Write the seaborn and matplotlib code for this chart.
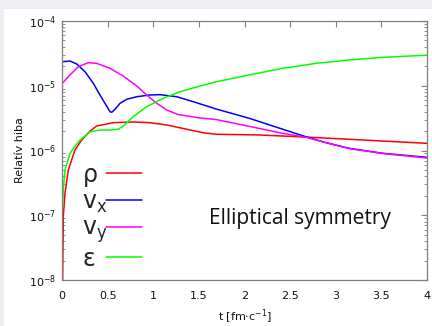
import matplotlib
matplotlib.use("Agg")
import matplotlib.pyplot as plt
from matplotlib.patches import Rectangle
from matplotlib.ticker import LogLocator, MultipleLocator, NullFormatter, FuncFormatter
import numpy as np
import pandas as pd
import seaborn as sns

# Relative error of each field versus time t [fm/c]
t_vx = [0.0, 0.003, 0.088, 0.161, 0.252, 0.343, 0.416, 0.482, 0.526, 0.545, 0.581,
        0.636, 0.709, 0.819, 0.964, 1.074, 1.257, 1.439, 1.688, 2.053, 2.419,
        2.674, 2.893, 3.148, 3.515, 4.0]
vx = [1e-9, 2.35e-5, 2.41e-5, 2.17e-5, 1.65e-5, 1.09e-5, 7.20e-6, 5.04e-6, 3.97e-6,
      3.89e-6, 4.33e-6, 5.36e-6, 6.18e-6, 6.77e-6, 7.20e-6, 7.28e-6, 6.77e-6,
      5.67e-6, 4.38e-6, 3.14e-6, 2.13e-6, 1.63e-6, 1.32e-6, 1.08e-6, 9.05e-7, 7.85e-7]

t_vy = [0.0, 0.003, 0.088, 0.179, 0.288, 0.380, 0.526, 0.672, 0.819, 0.928, 1.038,
        1.147, 1.271, 1.512, 1.688, 2.053, 2.419, 2.674, 2.893, 3.148, 3.515, 4.0]
vy = [1e-9, 1.09e-5, 1.47e-5, 1.97e-5, 2.27e-5, 2.22e-5, 1.86e-5, 1.41e-5, 9.91e-6,
      7.20e-6, 5.36e-6, 4.22e-6, 3.60e-6, 3.18e-6, 3.01e-6, 2.36e-6, 1.84e-6,
      1.60e-6, 1.32e-6, 1.07e-6, 8.99e-7, 7.66e-7]

t_rho = [0.0, 0.014, 0.033, 0.069, 0.142, 0.216, 0.307, 0.380, 0.562, 0.781, 0.964,
         1.147, 1.366, 1.548, 1.688, 2.145, 2.601, 3.148, 4.0]
rho = [1e-9, 9.5e-8, 2.21e-7, 5.0e-7, 1.02e-6, 1.45e-6, 2.0e-6, 2.39e-6, 2.69e-6,
       2.76e-6, 2.69e-6, 2.48e-6, 2.13e-6, 1.88e-6, 1.78e-6, 1.74e-6, 1.63e-6,
       1.49e-6, 1.29e-6]

t_eps = [0.0, 0.002, 0.014, 0.033, 0.088, 0.179, 0.307, 0.416, 0.526, 0.617, 0.672,
         0.781, 0.928, 1.110, 1.293, 1.512, 1.688, 2.053, 2.419, 2.784, 3.148,
         3.515, 4.0]
eps = [1e-9, 1.07e-7, 2.45e-7, 5.0e-7, 9.05e-7, 1.37e-6, 1.95e-6, 2.07e-6, 2.07e-6,
       2.13e-6, 2.39e-6, 3.33e-6, 4.75e-6, 6.40e-6, 8.09e-6, 9.91e-6, 1.15e-5,
       1.47e-5, 1.86e-5, 2.22e-5, 2.50e-5, 2.75e-5, 2.96e-5]

series_names = [r"$\rho$", r"$v_x$", r"$v_y$", r"$\varepsilon$"]
series_colors = ["#ff0000", "#0000ff", "#ff00ff", "#00ff00"]

frames = []
for name, tt, vv in zip(series_names, [t_rho, t_vx, t_vy, t_eps], [rho, vx, vy, eps]):
    frames.append(pd.DataFrame({"t": tt, "err": vv, "field": name}))
df = pd.concat(frames, ignore_index=True)

sns.set_style("white")
plt.rcParams["font.family"] = ["DejaVu Sans"]
plt.rcParams["mathtext.default"] = "regular"

fig = plt.figure(figsize=(4.32, 3.26), dpi=100)
fig.patch.set_facecolor("white")
# light slide border along the top and left
fig.patches.append(Rectangle((0, 1 - 9 / 326), 1, 9 / 326, transform=fig.transFigure,
                             facecolor="#eceef1", edgecolor="none", zorder=0))
fig.patches.append(Rectangle((0, 0), 4 / 432, 1, transform=fig.transFigure,
                             facecolor="#eceef1", edgecolor="none", zorder=0))

ax = fig.add_axes([62 / 432, 46 / 326, 365 / 432, 259 / 326])
sns.lineplot(data=df, x="t", y="err", hue="field", hue_order=series_names,
             palette=series_colors, sort=False, estimator=None, linewidth=1.1, ax=ax)

ax.set_yscale("log")
ax.set_xlim(0, 4)
ax.set_ylim(1e-8, 1e-4)

frame_col = "#7f7f7f"
for sp in ax.spines.values():
    sp.set_color(frame_col)
    sp.set_linewidth(0.9)

ax.xaxis.set_major_locator(MultipleLocator(0.5))
ax.xaxis.set_major_formatter(FuncFormatter(lambda v, p: f"{v:g}"))
ax.yaxis.set_major_locator(LogLocator(base=10, numticks=10))
ax.yaxis.set_minor_locator(LogLocator(base=10, subs=np.arange(2, 10), numticks=20))
ax.yaxis.set_minor_formatter(NullFormatter())
ax.tick_params(axis="both", which="major", direction="in", length=4.5, width=0.8,
               color=frame_col, labelsize=8, labelcolor="#111111",
               top=True, right=True, pad=4)
ax.tick_params(axis="y", which="minor", direction="in", length=2.3, width=0.6,
               color=frame_col, left=True, right=True)
ax.tick_params(axis="x", which="major", pad=8)

ax.set_xlabel(r"t [fm$\cdot$c$^{-1}$]", fontsize=8, color="#111111", labelpad=5)
ax.set_ylabel("Relatív hiba", fontsize=8, color="#111111", labelpad=3)

# key: symbols left-justified, sample lines in one column to their right
key_fontsize = 17
key_gap_pt = -1.0
handles, labels = ax.get_legend_handles_labels()
leg = ax.legend(handles, labels, loc="center left", bbox_to_anchor=(0.055, 0.245),
                frameon=False, markerfirst=False, fontsize=key_fontsize,
                handlelength=1.5, handletextpad=0.0, labelspacing=0.05,
                borderpad=0.0, borderaxespad=0.0)
fig.canvas.draw()
renderer = fig.canvas.get_renderer()
px_per_pt = fig.dpi / 72.0
rows = [row for col in leg._legend_handle_box.get_children() for row in col.get_children()]
widths = [txt.get_window_extent(renderer).width for txt in leg.get_texts()]
widest = max(widths)
for row, w in zip(rows, widths):
    row.sep = key_gap_pt + (widest - w) / px_per_pt

ax.text(0.403, 0.239, "Elliptical symmetry", transform=ax.transAxes,
        fontsize=15, family="Open Sans", color="#111111", va="center", ha="left")

fig.savefig("out.png", dpi=100)
